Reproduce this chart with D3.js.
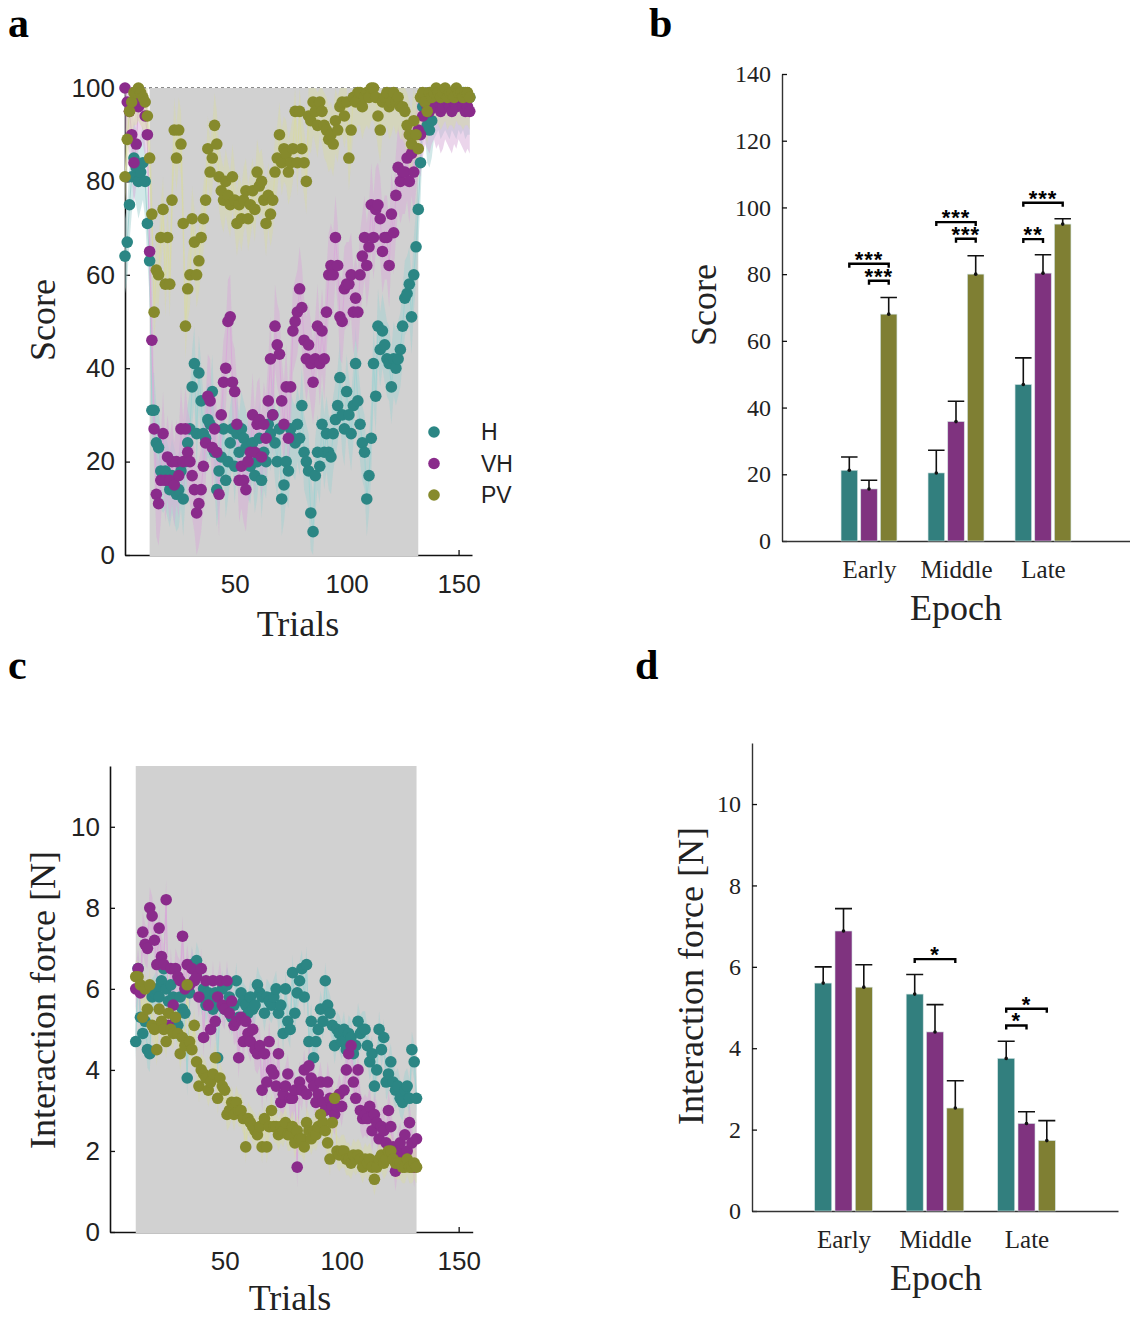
<!DOCTYPE html>
<meta charset="utf-8">
<script src="https://d3js.org/d3.v7.min.js"></script>
<style>
  body { margin: 0; background: #fff; }
</style>
<div id="fig"></div>
<script>

// ---- data ----
var groups = ["H", "VH", "PV"];
var epochs = ["Early", "Middle", "Late"];
var pertStart = 12, pertEnd = 132;   // perturbation trials (grey)

// score per trial, trials 1..155
var scoreH = [64, 67, 75, 81, 85, 83, 80, 82, 84, 80, 71,
  63, 31, 31, 24, 23, 18, 17, 18, 16, 14,
  17, 15, 13, 14, 18, 12, 20, 24, 27, 36,
  41, 26, 39, 33, 26, 25, 29, 28, 35, 22,
  14, 18, 21, 27, 16, 20, 24, 27, 19, 26,
  22, 27, 25, 23, 20, 19, 24, 17, 20, 25,
  16, 22, 20, 28, 26, 30, 24, 20, 27, 12,
  15, 20, 18, 27, 25, 24, 28, 25, 32, 22,
  20, 18, 9, 5, 17, 22, 19, 28, 22, 26,
  22, 21, 26, 29, 32, 38, 30, 27, 35, 30,
  26, 32, 41, 33, 28, 24, 22, 12, 17, 25,
  41, 34, 49, 44, 48, 45, 42, 41, 36, 42,
  40, 42, 44, 49, 55, 56, 58, 51, 60, 66,
  74,
  84, 96, 98, 92, 91, 93, 97, 98, 99, 97, 98, 99, 98, 97, 99, 98, 97, 99, 98, 99, 97, 98, 98];

var scoreVH = [100, 97, 95, 90, 84, 88, 96, 98, 97, 94, 90,
  65, 46, 27, 13, 11, 16, 26, 16, 21, 16,
  20, 15, 20, 17, 27, 20, 27, 22, 20, 17,
  14, 9, 11, 14, 19, 24, 34, 33, 23, 27,
  22, 13, 30, 37, 40, 50, 51, 37, 35, 28,
  16, 19, 16, 14, 20, 22, 30, 22, 28, 29,
  21, 28, 25, 33, 42, 30, 49, 45, 43, 33,
  28, 36, 25, 36, 48, 50, 52, 57, 53, 46,
  42, 45, 41, 37, 42, 49, 41, 48, 42, 52,
  60, 62, 60, 68, 62, 51, 50, 57, 58, 58,
  60, 52, 55, 52, 60, 64, 68, 62, 66, 75,
  68, 74, 75, 72, 65, 68, 68, 62, 73, 69,
  77, 83, 80, 82, 82, 85, 80, 86, 82, 87,
  91,
  90, 94, 97, 96, 95, 97, 98, 96, 97, 95, 96, 98, 97, 96, 95, 97, 96, 98, 97, 96, 95, 96, 95];

var scorePV = [81, 89, 95, 97, 99, 99, 100, 99, 98, 97, 94,
  85, 73, 52, 61, 60, 68, 74, 58, 68, 58,
  76, 91, 85, 91, 88, 71, 49, 57, 60, 72,
  67, 60, 63, 68, 72, 76, 87, 82, 85, 92,
  88, 81, 78, 76, 80, 77, 75, 81, 76, 71,
  75, 72, 76, 78, 72, 75, 78, 74, 82, 79,
  80, 76, 71, 77, 73, 76, 82, 85, 90, 84,
  87, 86, 82, 84, 87, 95, 84, 95, 87, 84,
  80, 94, 93, 97, 95, 92, 97, 95, 92, 91,
  89, 90, 88, 93, 91, 96, 97, 94, 97, 85,
  91, 98, 97, 99, 99, 96, 98, 99, 98, 100,
  100, 98, 94, 91, 97, 98, 99, 96, 97, 99,
  97, 98, 96, 96, 95, 92, 90, 88, 93, 90,
  87,
  98, 99, 97, 95, 99, 98, 99, 100, 99, 98, 99, 100, 98, 99, 99, 98, 100, 99, 99, 98, 99, 99, 98];

var scoreSE = [8, 9, 7];

// interaction force per trial, trials 12..132
var forceH = [4.7, 6.5, 5.3, 4.9, 5.2, 4.5, 4.4, 5.8, 5.9, 6.0,
  5.8, 6.2, 6.5, 6.0, 5.7, 6.1, 5.8, 5.2, 5.1, 5.8,
  5.5, 5.4, 3.8, 5.9, 6.6, 6.2, 6.7, 6.5, 5.8, 6.0,
  5.6, 5.9, 5.7, 5.5, 5.9, 4.3, 5.6, 6.0, 5.5, 6.1,
  5.8, 5.3, 5.6, 6.2, 5.3, 5.9, 5.7, 5.6, 5.4, 5.8,
  5.5, 5.6, 6.1, 5.9, 5.8, 5.4, 5.8, 5.7, 5.6, 5.8,
  6.0, 5.4, 5.6, 4.9, 6.0, 5.2, 5.0, 6.4, 5.4, 5.9,
  6.2, 6.5, 5.8, 6.6, 4.7, 5.2, 4.3, 4.7, 5.0, 5.5,
  5.2, 6.2, 5.6, 5.4, 5.1, 4.6, 5.0, 4.9, 4.7, 5.0,
  4.5, 4.9, 4.8, 4.4, 4.6, 5.2, 4.9, 5.0, 5.0, 4.6,
  4.2, 4.4, 3.6, 4.0, 5.0, 4.5, 4.8, 3.7, 3.9, 4.2,
  3.7, 3.5, 3.6, 3.3, 3.2, 3.5, 3.6, 3.3, 4.5, 4.2,
  3.3];

var forceVH = [6.0, 6.5, 5.9, 7.4, 7.1, 7.0, 8.0, 7.8, 7.2, 6.6,
  7.5, 6.8, 6.6, 8.2, 5.1, 6.5, 5.6, 6.5, 6.3, 6.2,
  7.3, 6.0, 6.6, 6.1, 6.5, 6.2, 6.3, 5.8, 6.5, 4.8,
  6.2, 5.6, 5.0, 6.2, 5.2, 5.8, 6.2, 5.6, 5.5, 6.2,
  5.4, 5.7, 5.1, 5.2, 4.3, 5.3, 4.7, 5.2, 4.9, 4.7,
  5.0, 4.5, 4.4, 4.6, 3.5, 4.4, 3.7, 4.7, 4.0, 3.9,
  3.6, 4.4, 3.2, 3.4, 3.6, 3.9, 3.3, 3.3, 3.5, 1.6,
  3.7, 3.5, 4.0, 3.4, 4.1, 3.8, 3.6, 3.2, 3.4, 3.7,
  3.2, 3.0, 3.7, 3.3, 3.1, 2.9, 3.1, 3.4, 3.1, 3.5,
  4.0, 4.4, 4.6, 3.7, 3.3, 4.0, 3.0, 2.8, 2.9, 2.8,
  3.1, 2.5, 2.9, 2.7, 2.3, 2.6, 2.5, 2.2, 3.0, 2.6,
  2.1, 1.5, 2.0, 2.2, 1.9, 2.4, 2.0, 2.7, 2.2, 1.6,
  2.3];

var forcePV = [6.3, 6.3, 6.1, 5.3, 6.0, 5.5, 6.1, 5.1, 5.0, 4.5,
  5.5, 5.2, 5.0, 4.7, 5.4, 5.0, 4.9, 5.3, 4.9, 4.4,
  4.8, 4.6, 6.1, 4.7, 4.5, 5.1, 4.2, 3.6, 4.0, 3.9,
  3.8, 3.5, 3.7, 3.9, 4.3, 3.3, 3.8, 3.6, 3.5, 2.9,
  3.0, 3.2, 2.9, 3.2, 3.0, 3.0, 2.8, 2.1, 2.8, 2.7,
  2.6, 2.5, 2.4, 2.6, 2.1, 2.8, 2.1, 2.6, 3.0, 2.6,
  2.6, 2.4, 2.6, 2.5, 2.7, 2.4, 2.4, 2.6, 2.2, 2.5,
  2.3, 2.3, 2.1, 2.7, 2.5, 2.3, 2.5, 2.4, 2.6, 2.9,
  2.7, 2.5, 2.2, 1.8, 2.7, 3.3, 2.0, 1.9, 2.0, 2.0,
  1.8, 1.8, 1.7, 1.9, 1.8, 1.9, 1.8, 1.6, 1.8, 1.7,
  1.8, 1.6, 1.3, 1.6, 1.8, 1.9, 1.7, 1.8, 2.0, 2.0,
  1.8, 1.7, 1.7, 1.7, 1.6, 1.6, 1.8, 1.6, 1.6, 1.7,
  1.6];

var forceSE = [0.45, 0.5, 0.4];

// epoch means and SE (panels b, d)
var scoreMean = [[21.2, 20.4, 46.9], [15.6, 35.8, 80.3], [68.0, 80.0, 95.0]];
var scoreErr  = [[4.0, 6.8, 8.0], [2.6, 6.1, 5.5], [5.0, 5.5, 1.6]];
var forceMean = [[5.60, 5.33, 3.75], [6.88, 4.40, 2.15], [5.50, 2.53, 1.73]];
var forceErr  = [[0.40, 0.48, 0.42], [0.55, 0.67, 0.29], [0.55, 0.67, 0.49]];

// significance: epoch, group a, group b, bracket height, label
var scoreSig = [
  ["Early", 0, 2, 83.1, "***"], ["Early", 1, 2, 78.0, "***"],
  ["Middle", 0, 2, 95.6, "***"], ["Middle", 1, 2, 90.6, "***"],
  ["Late", 0, 2, 101.4, "***"], ["Late", 0, 1, 90.5, "**"]];
var forceSig = [
  ["Middle", 0, 2, 6.19, "*"],
  ["Late", 0, 2, 4.97, "*"], ["Late", 0, 1, 4.56, "*"]];

// ---- style ----
var dotColor = ["#2b8684", "#8a2b8b", "#868a2c"];
var barColor = ["#327f7e", "#7f337f", "#7f7f33"];
var bandColor = ["#a3d2d1", "#d8acd8", "#d8d9a8"];
var sans = "Liberation Sans, Arial, sans-serif";
var serif = "Liberation Serif, Times New Roman, serif";

var svg = d3.select("#fig").append("svg")
  .attr("width", 1130)
  .attr("height", 1319);

function styleAxis(g, font, size) {
  g.select(".domain").attr("stroke", "#111").attr("stroke-width", 1.6);
  g.selectAll(".tick line").attr("stroke", "#111").attr("stroke-width", 1.3);
  g.selectAll(".tick text").attr("fill", "#222")
    .style("font-family", font).style("font-size", size + "px");
}

// ---- trial panels (a, c) ----
function trialPanel(opt) {
  var x = d3.scaleLinear().domain([1, 156]).range(opt.xr);
  var y = d3.scaleLinear().domain(opt.yd).range(opt.yr);
  var g = svg.append("g");

  g.append("g").attr("transform", "translate(0," + opt.yr[0] + ")")
    .call(d3.axisBottom(x).tickValues([50, 100, 150]).tickSizeInner(-5).tickSizeOuter(0).tickPadding(20))
    .call(styleAxis, sans, 26);
  g.append("g").attr("transform", "translate(" + opt.xr[0] + ",0)")
    .call(d3.axisLeft(y).tickValues(opt.yticks).tickSizeInner(-5).tickSizeOuter(0).tickPadding(10))
    .call(styleAxis, sans, 26);

  if (opt.dashed) {
    g.append("line")
      .attr("x1", x(1)).attr("x2", x(156))
      .attr("y1", y(100)).attr("y2", y(100))
      .attr("stroke", "#666").attr("stroke-width", 1.3)
      .attr("stroke-dasharray", "3,3");
  }

  g.append("rect")
    .attr("x", x(pertStart)).attr("width", x(pertEnd) - x(pertStart))
    .attr("y", y(opt.yd[1])).attr("height", y(0) - y(opt.yd[1]) + 1)
    .attr("fill", "#d1d1d1");

  var lo = opt.yd[0], hi = opt.yd[1];
  opt.series.forEach(function (vals, k) {
    var pts = vals.map(function (v, i) { return {t: opt.t0 + i, v: v}; });
    var area = d3.area()
      .x(function (d) { return x(d.t); })
      .y0(function (d) { return y(Math.max(lo, d.v - opt.se[k])); })
      .y1(function (d) { return y(Math.min(hi, d.v + opt.se[k])); });
    g.append("path").datum(pts).attr("d", area)
      .attr("fill", bandColor[k]).attr("fill-opacity", 0.5);
    g.append("path").datum(pts)
      .attr("d", d3.line().x(function (d) { return x(d.t); }).y(function (d) { return y(d.v); }))
      .attr("fill", "none").attr("stroke", bandColor[k]).attr("stroke-width", 1);
  });

  opt.series.forEach(function (vals, k) {
    g.selectAll(null).data(vals).enter().append("circle")
      .attr("cx", function (d, i) { return x(opt.t0 + i); })
      .attr("cy", function (d) { return y(d); })
      .attr("r", 5.8)
      .attr("fill", dotColor[k]);
  });

  g.append("text")
    .attr("transform", "translate(" + opt.ylab[0] + "," + opt.ylab[1] + ") rotate(-90)")
    .attr("text-anchor", "middle").attr("dy", "0.35em")
    .style("font-family", serif).style("font-size", "36px").attr("fill", "#222")
    .text(opt.ytitle);
  g.append("text")
    .attr("x", opt.xlab[0]).attr("y", opt.xlab[1])
    .attr("text-anchor", "middle")
    .style("font-family", serif).style("font-size", "36px").attr("fill", "#222")
    .text("Trials");
  return g;
}

var ga = trialPanel({
  xr: [125, 472], yr: [555, 88], yd: [0, 100], yticks: [0, 20, 40, 60, 80, 100],
  t0: 1, series: [scoreH, scoreVH, scorePV], se: scoreSE, dashed: true,
  ytitle: "Score", ylab: [42, 320], xlab: [298, 636]
});

// legend
groups.forEach(function (name, k) {
  ga.append("circle").attr("cx", 434).attr("cy", 432 + k * 31.5).attr("r", 5.8).attr("fill", dotColor[k]);
  ga.append("text").attr("x", 481).attr("y", 432 + k * 31.5).attr("dy", "0.35em")
    .style("font-family", sans).style("font-size", "23px").attr("fill", "#222")
    .text(name);
});

trialPanel({
  xr: [110, 472.7], yr: [1232, 766], yd: [0, 11.5], yticks: [0, 2, 4, 6, 8, 10],
  t0: pertStart, series: [forceH, forceVH, forcePV], se: forceSE, dashed: false,
  ytitle: "Interaction force [N]", ylab: [42, 1000], xlab: [290, 1310]
});

// ---- epoch bar panels (b, d) ----
function barPanel(opt) {
  var x = d3.scalePoint().domain(epochs).range(opt.xr).padding(1);
  var y = d3.scaleLinear().domain(opt.yd).range(opt.yr);
  var g = svg.append("g");

  g.append("g").attr("transform", "translate(" + opt.xr[0] + ",0)")
    .call(d3.axisLeft(y).tickValues(opt.yticks).tickSizeInner(-5).tickSizeOuter(0).tickPadding(11))
    .call(styleAxis, serif, 24);
  g.append("g").attr("transform", "translate(0," + opt.yr[0] + ")")
    .call(d3.axisBottom(x).tickSize(0).tickPadding(19))
    .call(styleAxis, serif, 25);
  g.selectAll(".domain").attr("stroke", "#333").attr("stroke-width", 1.4);

  opt.mean.forEach(function (vals, k) {
    var off = (k - 1) * opt.step;
    vals.forEach(function (v, e) {
      var cx = x(epochs[e]) + off;
      var top = y(v), et = y(v + opt.err[k][e]);
      g.append("rect")
        .attr("x", cx - opt.bw / 2).attr("width", opt.bw)
        .attr("y", top).attr("height", y(0) - top)
        .attr("fill", barColor[k]).attr("stroke", "#cfe0df").attr("stroke-width", 0.6);
      g.append("path")
        .attr("d", "M" + cx + "," + top + "V" + et + "M" + (cx - opt.bw / 2) + "," + et + "H" + (cx + opt.bw / 2))
        .attr("stroke", "#111").attr("stroke-width", 1.6).attr("fill", "none");
      g.append("circle").attr("cx", cx).attr("cy", top).attr("r", 1.8).attr("fill", "#111");
    });
  });

  opt.sig.forEach(function (s) {
    var x1 = x(s[0]) + (s[1] - 1) * opt.step, x2 = x(s[0]) + (s[2] - 1) * opt.step;
    var yy = y(s[3]);
    g.append("path")
      .attr("d", "M" + x1 + "," + (yy + 4) + "V" + yy + "H" + x2 + "V" + (yy + 4))
      .attr("stroke", "#000").attr("stroke-width", 2.4).attr("fill", "none");
    g.append("text")
      .attr("x", (x1 + x2) / 2).attr("y", yy + 3)
      .attr("text-anchor", "middle")
      .style("font-family", sans).style("font-size", "22px").style("font-weight", "bold")
      .style("letter-spacing", "1px")
      .text(s[4]);
  });

  g.append("text")
    .attr("transform", "translate(" + opt.ylab[0] + "," + opt.ylab[1] + ") rotate(-90)")
    .attr("text-anchor", "middle").attr("dy", "0.35em")
    .style("font-family", serif).style("font-size", "36px").attr("fill", "#222")
    .text(opt.ytitle);
  g.append("text")
    .attr("x", opt.xlab[0]).attr("y", opt.xlab[1])
    .attr("text-anchor", "middle")
    .style("font-family", serif).style("font-size", "36px").attr("fill", "#222")
    .text("Epoch");
}

barPanel({
  xr: [782, 1130], yr: [541, 74], yd: [0, 140], yticks: d3.range(0, 141, 20),
  mean: scoreMean, err: scoreErr, sig: scoreSig, step: 19.7, bw: 16.5,
  ytitle: "Score", ylab: [703, 305], xlab: [956, 620]
});

barPanel({
  xr: [752, 1118], yr: [1211, 743], yd: [0, 11.5], yticks: [0, 2, 4, 6, 8, 10],
  mean: forceMean, err: forceErr, sig: forceSig, step: 20.3, bw: 17,
  ytitle: "Interaction force [N]", ylab: [690, 976], xlab: [936, 1290]
});

// panel letters
[["a", 8, 37], ["b", 649, 37], ["c", 8, 679], ["d", 635, 679]].forEach(function (l) {
  svg.append("text").attr("x", l[1]).attr("y", l[2])
    .style("font-family", serif).style("font-size", "42px").style("font-weight", "bold")
    .text(l[0]);
});

</script>
